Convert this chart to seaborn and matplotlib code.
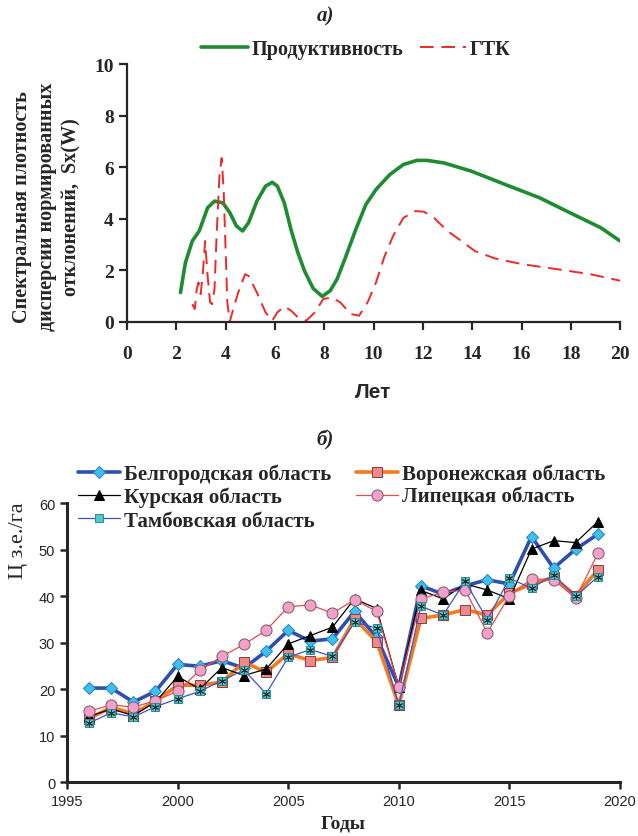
import numpy as np
import pandas as pd
import matplotlib
matplotlib.use("Agg")
import matplotlib.pyplot as plt
import seaborn as sns

### Panel a) spectral density
lag_prod = [2.17, 2.37, 2.65, 2.93, 3.27, 3.55, 3.89, 4.17, 4.44, 4.69, 4.93, 5.27, 5.62, 5.89,
            6.10, 6.38, 6.65, 6.93, 7.20, 7.55, 7.92, 8.24, 8.52, 8.86, 9.28, 9.69, 10.10, 10.66,
            11.21, 11.76, 12.17, 12.86, 13.97, 15.35, 16.73, 18.11, 19.21, 20.0]
prod = [1.13, 2.29, 3.13, 3.52, 4.42, 4.68, 4.61, 4.23, 3.71, 3.52, 3.84, 4.68, 5.26, 5.41,
        5.26, 4.61, 3.58, 2.68, 1.97, 1.29, 0.98, 1.20, 1.65, 2.49, 3.58, 4.55, 5.13, 5.71,
        6.10, 6.26, 6.26, 6.16, 5.84, 5.32, 4.81, 4.16, 3.65, 3.13]

lag_gtk = [2.65, 2.75, 2.83, 2.90, 2.99, 3.09, 3.17, 3.27, 3.37, 3.45, 3.55, 3.64, 3.75, 3.84,
           3.92, 4.00, 4.07, 4.17, 4.31, 4.51, 4.79, 4.93, 5.27, 5.62, 5.89, 6.10, 6.38, 6.65,
           6.93, 7.27, 7.62, 7.96, 8.31, 8.65, 9.07, 9.41, 9.76, 10.10, 10.45, 10.79, 11.21,
           11.69, 12.04, 12.45, 13.00, 13.62, 14.11, 14.94, 16.04, 17.42, 18.80, 20.0]
gtk = [0.68, 0.49, 1.26, 1.52, 1.07, 2.04, 3.13, 1.78, 0.75, 0.68, 1.26, 3.45, 5.64, 6.35,
       5.13, 2.81, 0.75, 0.0, 0.49, 1.13, 1.84, 1.78, 1.13, 0.36, 0.04, 0.36, 0.59, 0.43,
       0.17, 0.04, 0.36, 0.88, 0.94, 0.75, 0.30, 0.23, 0.75, 1.52, 2.55, 3.32, 4.03,
       4.29, 4.27, 4.03, 3.52, 3.09, 2.74, 2.45, 2.23, 2.04, 1.84, 1.59]

### Panel b) yields by region
years = list(range(1996, 2020))
belgorod = [20.2, 20.2, 17.2, 19.5, 25.3, 24.9, 26.1, 24.5, 28.1, 32.6, 30.3, 30.8,
            36.7, 31.1, 20.5, 42.2, 40.4, 42.2, 43.5, 42.6, 52.8, 46.0, 50.1, 53.3]
voronezh = [13.6, 16.1, 14.7, 17.4, 20.8, 20.8, 21.5, 25.8, 23.6, 27.6, 26.1, 26.8,
            35.1, 30.2, 16.5, 35.2, 35.9, 37.1, 35.9, 40.6, 42.6, 44.0, 40.1, 45.6]
kursk = [14.1, 15.7, 14.3, 17.2, 22.7, 20.0, 24.6, 22.9, 24.3, 29.7, 31.5, 33.3,
         39.4, 37.3, 20.5, 41.2, 39.4, 42.6, 41.3, 39.4, 50.1, 51.9, 51.5, 56.0]
lipetsk = [15.2, 16.6, 16.1, 17.5, 19.5, 24.0, 27.0, 29.6, 32.6, 37.7, 38.1, 36.3,
           39.2, 36.7, 20.5, 39.4, 40.8, 41.3, 32.1, 40.1, 43.7, 43.5, 39.5, 49.2]
tambov = [12.7, 14.9, 14.0, 16.2, 17.9, 19.5, 21.8, 24.1, 19.0, 26.8, 28.5, 27.0,
          34.4, 33.1, 16.5, 37.8, 35.9, 43.2, 34.9, 43.8, 41.7, 44.5, 39.9, 44.2]

sns.set_style("ticks")
plt.rcParams['font.family'] = ['Liberation Serif', 'DejaVu Serif']
plt.rcParams['axes.linewidth'] = 1.6

fig = plt.figure(figsize=(6.38, 8.37), dpi=100)

##### a)
ax1 = fig.add_axes([0.199, 0.6145, 0.773, 0.3078])
sns.lineplot(x=lag_prod, y=prod, ax=ax1, color='#1f8c32', lw=2.6, label='Продуктивность')
sns.lineplot(x=lag_gtk, y=gtk, ax=ax1, color='#f02828', lw=1.4, dashes=(7, 4), label='ГТК')
ax1.set_xlim(0, 20)
ax1.set_ylim(0, 10)
ax1.set_xticks(range(0, 21, 2))
ax1.set_yticks(range(0, 11, 2))
ax1.tick_params(axis='both', labelsize=14, width=1.6, length=6, direction='out')
ax1.tick_params(axis='x', pad=11)
for t in ax1.get_xticklabels() + ax1.get_yticklabels():
    t.set_fontweight('bold')
ax1.set_xlabel('Лет', fontsize=15, fontweight='bold', family='Liberation Sans', labelpad=14)
ax1.set_ylabel('')
sns.despine(ax=ax1)
ax1.legend(loc='center', bbox_to_anchor=(356/638, 1 - 50/837), bbox_transform=fig.transFigure,
           ncol=2, frameon=False, handlelength=2.3, columnspacing=0.8, handletextpad=0.2,
           prop={'size': 14.5, 'weight': 'bold'})

fig.text(47/638, 1 - 207/837, 'Спектральная плотность\nдисперсии нормированных\nотклонений,  Sx(W)',
         rotation=90, ha='center', va='center', multialignment='center', fontsize=14.5,
         fontweight='bold', linespacing=1.3)
fig.text(325/638, 1 - 16/837, 'а)', ha='center', va='center', fontsize=15,
         fontweight='bold', style='italic')
fig.text(325/638, 1 - 440/837, 'б)', ha='center', va='center', fontsize=15,
         fontweight='bold', style='italic')

##### b)
ax2 = fig.add_axes([0.105, 0.0645, 0.8668, 0.3333])
sns.lineplot(x=years, y=belgorod, ax=ax2, color='#2f4fb0', lw=2.6, marker='D', markersize=6,
             markerfacecolor='#3cc0ee', markeredgecolor='#2f80c0', label='Белгородская область')
sns.lineplot(x=years, y=voronezh, ax=ax2, color='#f47a20', lw=2.6, marker='s', markersize=7,
             markerfacecolor='#f08a8a', markeredgecolor='#904040', label='Воронежская область')
sns.lineplot(x=years, y=kursk, ax=ax2, color='black', lw=0.9, marker='^', markersize=7,
             markerfacecolor='black', markeredgecolor='black', label='Курская область')
sns.lineplot(x=years, y=lipetsk, ax=ax2, color='#f04848', lw=0.9, marker='o', markersize=8,
             markerfacecolor='#f4a0c8', markeredgecolor='#806070', label='Липецкая область')
sns.lineplot(x=years, y=tambov, ax=ax2, color='#4050c8', lw=0.9, marker='s', markersize=6,
             markerfacecolor='#50c8c8', markeredgecolor='#309090', label='Тамбовская область')
ax2.scatter(years, tambov, marker=(6, 2, 0), s=22, color='#203040', lw=0.7, zorder=5)

ax2.set_xlim(1995, 2020)
ax2.set_ylim(0, 60)
ax2.set_xticks(range(1995, 2021, 5))
ax2.set_yticks(range(0, 61, 10))
ax2.tick_params(axis='both', labelsize=10.5, width=1.8, length=5, direction='out')
for t in ax2.get_xticklabels() + ax2.get_yticklabels():
    t.set_family('Liberation Sans')
for s in ax2.spines.values():
    s.set_linewidth(2.2)
ax2.set_xlabel('Годы', fontsize=14, fontweight='bold', labelpad=5)
ax2.set_ylabel('Ц з.е./га', fontsize=16)
ax2.yaxis.set_label_coords(-0.07, 0.868)
sns.despine(ax=ax2)

h, l = ax2.get_legend_handles_labels()
order = [0, 2, 4, 1, 3]
ax2.legend([h[i] for i in order], [l[i] for i in order], loc='center',
           bbox_to_anchor=(342/638, 1 - 498/837), bbox_transform=fig.transFigure,
           ncol=2, frameon=False, handlelength=2.0, columnspacing=1.2, handletextpad=0.2,
           labelspacing=0.15, prop={'size': 15, 'weight': 'bold'})

fig.savefig('out.png', dpi=100)
